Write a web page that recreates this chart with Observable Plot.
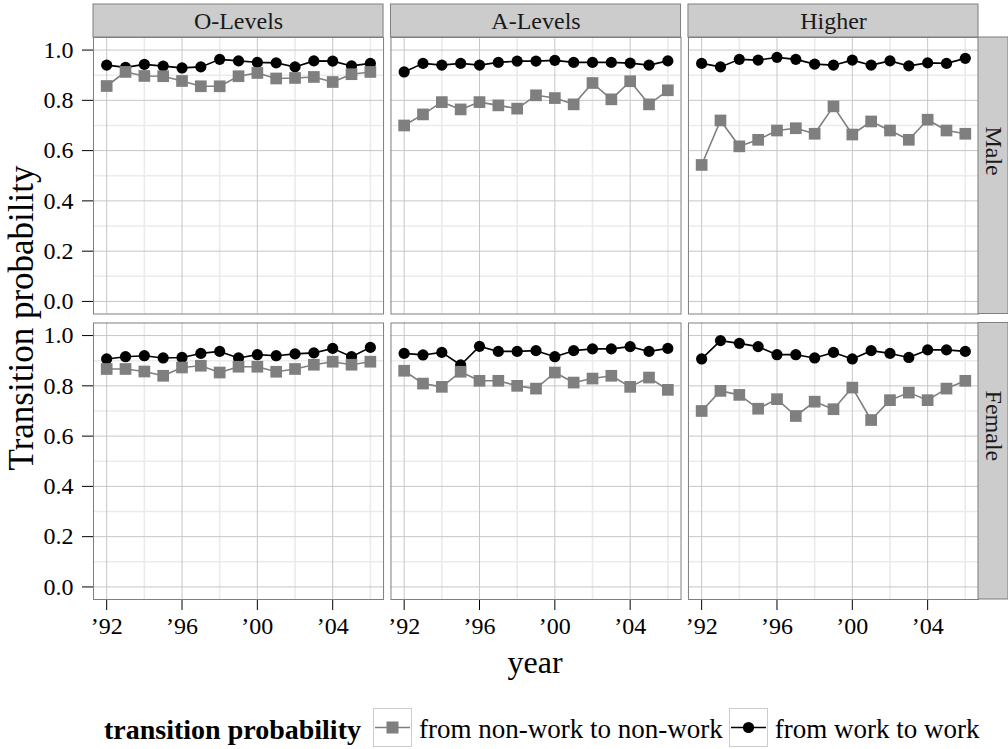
<!DOCTYPE html>
<html>
<head>
<meta charset="utf-8">
<script src="https://cdn.jsdelivr.net/npm/d3@7"></script>
<script src="https://cdn.jsdelivr.net/npm/@observablehq/plot@0.6"></script>
<style>
  html, body { margin: 0; padding: 0; background: #fff; }
  #chart { position: relative; width: 1008px; height: 749px; font-family: "Liberation Serif", serif; color: #000; }
  #chart > svg { position: absolute; left: 0; top: 0; }
  .ytitle { position: absolute; left: 22px; top: 318px; transform: translate(-50%, -50%) rotate(-90deg); font-size: 35px; white-space: nowrap; }
  .xtitle { position: absolute; left: 535px; top: 662px; transform: translate(-50%, -50%); font-size: 32px; white-space: nowrap; }
  .legend { position: absolute; left: 104px; top: 708px; height: 39px; display: flex; align-items: center; font-size: 27px; white-space: nowrap; }
  .legend b { font-size: 28px; margin-right: 12px; position: relative; top: 2px; }
  #chart .legend svg { position: static; display: block; margin-right: 7px; }
  .legend .lab { margin-right: 6px; position: relative; top: 2px; }
</style>
</head>
<body>
<div id="chart"></div>
<script>
// Survey years and facet categories
const years = [1992, 1993, 1994, 1995, 1996, 1997, 1998, 1999, 2000, 2001, 2002, 2003, 2004, 2005, 2006];
const eduLevels = ["O-Levels", "A-Levels", "Higher"];
const sexes = ["Male", "Female"];
const seriesNames = ["from non-work to non-work", "from work to work"];

// Transition probabilities by sex and education level
const maleOWork      = [0.940, 0.931, 0.943, 0.936, 0.929, 0.933, 0.963, 0.957, 0.951, 0.949, 0.933, 0.957, 0.956, 0.937, 0.947];
const maleONonwork   = [0.857, 0.913, 0.897, 0.896, 0.877, 0.856, 0.856, 0.896, 0.909, 0.887, 0.889, 0.893, 0.873, 0.904, 0.913];
const maleAWork      = [0.913, 0.947, 0.940, 0.947, 0.940, 0.951, 0.956, 0.956, 0.959, 0.951, 0.951, 0.951, 0.948, 0.940, 0.957];
const maleANonwork   = [0.700, 0.744, 0.793, 0.764, 0.793, 0.780, 0.767, 0.820, 0.809, 0.784, 0.869, 0.804, 0.876, 0.784, 0.840];
const maleHWork      = [0.947, 0.933, 0.963, 0.960, 0.971, 0.963, 0.944, 0.940, 0.960, 0.940, 0.957, 0.937, 0.949, 0.947, 0.967];
const maleHNonwork   = [0.543, 0.720, 0.617, 0.643, 0.680, 0.689, 0.667, 0.776, 0.664, 0.716, 0.680, 0.643, 0.723, 0.680, 0.667];
const femaleOWork    = [0.907, 0.916, 0.920, 0.911, 0.913, 0.929, 0.937, 0.911, 0.924, 0.920, 0.927, 0.931, 0.949, 0.916, 0.953];
const femaleONonwork = [0.867, 0.867, 0.857, 0.840, 0.873, 0.880, 0.853, 0.876, 0.876, 0.856, 0.867, 0.884, 0.896, 0.884, 0.896];
const femaleAWork    = [0.929, 0.923, 0.933, 0.883, 0.957, 0.937, 0.937, 0.940, 0.916, 0.940, 0.947, 0.947, 0.956, 0.937, 0.949];
const femaleANonwork = [0.860, 0.809, 0.796, 0.856, 0.820, 0.820, 0.800, 0.789, 0.853, 0.813, 0.829, 0.840, 0.796, 0.833, 0.784];
const femaleHWork    = [0.907, 0.980, 0.969, 0.956, 0.924, 0.924, 0.911, 0.933, 0.907, 0.940, 0.929, 0.913, 0.943, 0.943, 0.937];
const femaleHNonwork = [0.700, 0.780, 0.764, 0.709, 0.747, 0.680, 0.737, 0.707, 0.793, 0.664, 0.743, 0.773, 0.743, 0.789, 0.820];

// Axis ticks
const yMajor = [0, 0.2, 0.4, 0.6, 0.8, 1.0];
const yMinor = [0.1, 0.3, 0.5, 0.7, 0.9];
const xMajor = [1992, 1996, 2000, 2004];
const xMinor = [1994, 1998, 2002, 2006];

// Long table: one row per year, sex, education level and series
const seriesTable = [
  ["Male", "O-Levels", maleONonwork, maleOWork],
  ["Male", "A-Levels", maleANonwork, maleAWork],
  ["Male", "Higher", maleHNonwork, maleHWork],
  ["Female", "O-Levels", femaleONonwork, femaleOWork],
  ["Female", "A-Levels", femaleANonwork, femaleAWork],
  ["Female", "Higher", femaleHNonwork, femaleHWork]
];
const rows = [];
for (const [sex, edu, nonwork, work] of seriesTable) {
  years.forEach((year, i) => {
    rows.push({sex, edu, year, value: nonwork[i], series: seriesNames[0]});
    rows.push({sex, edu, year, value: work[i], series: seriesNames[1]});
  });
}
const nonworkRows = rows.filter(d => d.series === seriesNames[0]);
const workRows = rows.filter(d => d.series === seriesNames[1]);

// Page layout
const W = 1008, H = 700;
const M = {top: 37, right: 30, bottom: 101, left: 93};
const stripH = 33, stripW = 30;
const fxPad = 0.025, fyPad = 0.0315;
const facetW = d3.scaleBand(eduLevels, [M.left, W - M.right]).paddingInner(fxPad).paddingOuter(0).bandwidth();
const facetH = d3.scaleBand(sexes, [M.top, H - M.bottom]).paddingInner(fyPad).paddingOuter(0).bandwidth();

const topStrips = eduLevels.map(edu => ({edu, sex: sexes[0]}));
const sideStrips = sexes.map(sex => ({edu: eduLevels[2], sex}));

const grey = "#7f7f7f";

const chart = Plot.plot({
  width: W,
  height: H,
  marginTop: M.top,
  marginRight: M.right,
  marginBottom: M.bottom,
  marginLeft: M.left,
  style: {fontFamily: "Liberation Serif, serif", fontSize: "24px", color: "#000", background: "transparent"},
  fx: {domain: eduLevels, paddingInner: fxPad, paddingOuter: 0, round: false, axis: null},
  fy: {domain: sexes, paddingInner: fyPad, paddingOuter: 0, round: false, axis: null},
  x: {domain: [1991.3, 2006.7], ticks: xMajor, tickFormat: d => "\u2019" + String(d).slice(2), tickSize: 11, tickPadding: 6, label: null},
  y: {domain: [-0.05, 1.05], ticks: yMajor, tickFormat: d3.format(".1f"), tickSize: 11, tickPadding: 9, label: null},
  marks: [
    // panel grid: light minor lines, then thinner major lines
    Plot.ruleY(yMinor, {stroke: "#ebebeb", strokeWidth: 1.6}),
    Plot.ruleX(xMinor, {stroke: "#ebebeb", strokeWidth: 1.6}),
    Plot.ruleY(yMajor, {stroke: "#c6c6c6", strokeWidth: 1}),
    Plot.ruleX(xMajor, {stroke: "#c6c6c6", strokeWidth: 1}),
    Plot.frame({stroke: grey, strokeWidth: 1}),
    // facet strips
    Plot.rect(topStrips, {fx: "edu", fy: "sex", fill: "#cccccc", stroke: grey, strokeWidth: 1, insetTop: -stripH, insetBottom: facetH, clip: false}),
    Plot.text(topStrips, {fx: "edu", fy: "sex", text: "edu", frameAnchor: "top", dy: -stripH / 2, lineAnchor: "middle", fontSize: 24, fill: "#1a1a1a"}),
    Plot.rect(sideStrips, {fx: "edu", fy: "sex", fill: "#cccccc", stroke: grey, strokeWidth: 1, insetLeft: facetW, insetRight: -stripW, clip: false}),
    Plot.text(sideStrips, {fx: "edu", fy: "sex", text: "sex", frameAnchor: "right", dx: stripW / 2, rotate: 90, lineAnchor: "middle", fontSize: 24, fill: "#1a1a1a"}),
    // series
    Plot.line(workRows, {fx: "edu", fy: "sex", x: "year", y: "value", stroke: "#000", strokeWidth: 1.6}),
    Plot.line(nonworkRows, {fx: "edu", fy: "sex", x: "year", y: "value", stroke: grey, strokeWidth: 1.6}),
    Plot.dot(workRows, {fx: "edu", fy: "sex", x: "year", y: "value", r: 5.6, fill: "#000", symbol: "circle"}),
    Plot.dot(nonworkRows, {fx: "edu", fy: "sex", x: "year", y: "value", r: 6.6, fill: grey, symbol: "square"})
  ]
});

const root = document.getElementById("chart");
root.appendChild(chart);

const yt = document.createElement("div");
yt.className = "ytitle";
yt.textContent = "Transition probability";
root.appendChild(yt);

const xt = document.createElement("div");
xt.className = "xtitle";
xt.textContent = "year";
root.appendChild(xt);

// legend keys: a boxed line-and-point swatch per series
function keySwatch(color, shape) {
  const s = 39;
  const sym = shape === "square"
    ? `<rect x="${s / 2 - 6}" y="${s / 2 - 6}" width="12" height="12" fill="${color}"/>`
    : `<circle cx="${s / 2}" cy="${s / 2}" r="5.6" fill="${color}"/>`;
  return `<svg width="${s}" height="${s}" viewBox="0 0 ${s} ${s}">
    <rect x="0.5" y="0.5" width="${s - 1}" height="${s - 1}" fill="#fff" stroke="#cccccc"/>
    <line x1="2" x2="${s - 2}" y1="${s / 2}" y2="${s / 2}" stroke="${color}" stroke-width="1.6"/>
    ${sym}</svg>`;
}
const legend = document.createElement("div");
legend.className = "legend";
legend.innerHTML = `<b>transition probability</b>` +
  keySwatch(grey, "square") + `<span class="lab">${seriesNames[0]}</span>` +
  keySwatch("#000", "circle") + `<span class="lab">${seriesNames[1]}</span>`;
root.appendChild(legend);
</script>
</body>
</html>
